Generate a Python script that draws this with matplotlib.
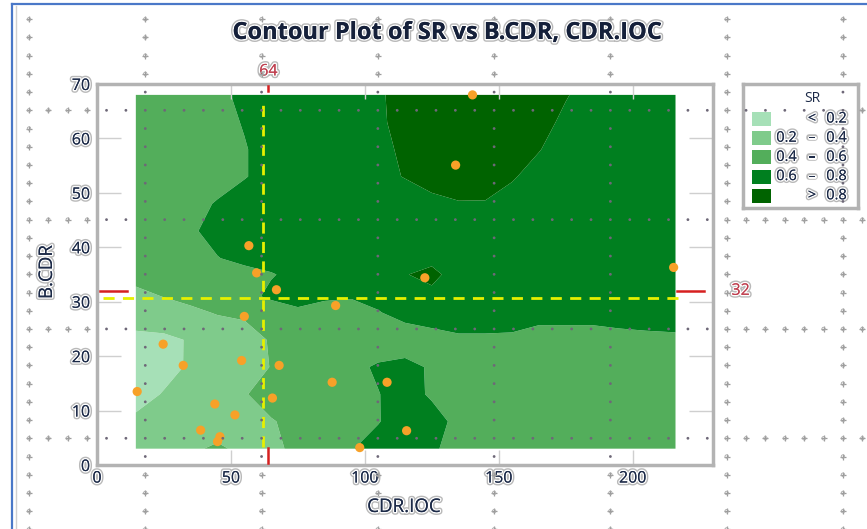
# Contour plot de SR em função de B.CDR e CDR.IOC (estilo Minitab)

import numpy as np
import matplotlib
matplotlib.use("Agg")
import matplotlib.pyplot as plt
import matplotlib.patheffects as pe
from matplotlib.patches import Rectangle
from matplotlib.lines import Line2D

plt.rcParams["font.family"] = ["Open Sans", "DejaVu Sans"]

# Grade ajustada: colunas (CDR.IOC), linhas (B.CDR) e valores de SR
cdr_ioc_grid = [14.5, 25, 35, 45, 55, 65, 75, 85, 95, 105, 115, 125, 135, 145, 155, 165, 175, 185, 195, 205, 216]
b_cdr_grid = [3, 8, 13, 18, 23, 28, 31, 35, 38, 43, 48, 53, 58, 63, 68]
sr_grid = [
    [0.30, 0.33, 0.38, 0.42, 0.37, 0.36, 0.44, 0.52, 0.59, 0.68, 0.70, 0.62, 0.55, 0.52, 0.50, 0.50, 0.50, 0.50, 0.50, 0.50, 0.50],
    [0.23, 0.27, 0.31, 0.33, 0.35, 0.39, 0.44, 0.50, 0.55, 0.59, 0.70, 0.66, 0.56, 0.52, 0.50, 0.50, 0.50, 0.50, 0.50, 0.50, 0.50],
    [0.14, 0.21, 0.27, 0.33, 0.39, 0.46, 0.50, 0.52, 0.55, 0.595, 0.66, 0.58, 0.52, 0.50, 0.50, 0.50, 0.50, 0.50, 0.50, 0.50, 0.50],
    [0.12, 0.15, 0.22, 0.28, 0.33, 0.405, 0.48, 0.52, 0.56, 0.62, 0.65, 0.58, 0.52, 0.50, 0.50, 0.50, 0.50, 0.50, 0.50, 0.50, 0.50],
    [0.15, 0.16, 0.215, 0.30, 0.35, 0.41, 0.46, 0.50, 0.52, 0.50, 0.50, 0.54, 0.57, 0.57, 0.57, 0.53, 0.53, 0.53, 0.55, 0.56, 0.57],
    [0.30, 0.33, 0.37, 0.41, 0.42, 0.50, 0.58, 0.55, 0.55, 0.59, 0.66, 0.68, 0.70, 0.70, 0.68, 0.66, 0.66, 0.66, 0.67, 0.68, 0.68],
    [0.36, 0.405, 0.44, 0.47, 0.55, 0.63, 0.64, 0.62, 0.61, 0.65, 0.72, 0.74, 0.72, 0.72, 0.72, 0.70, 0.70, 0.70, 0.70, 0.70, 0.70],
    [0.45, 0.47, 0.49, 0.51, 0.55, 0.59, 0.64, 0.68, 0.70, 0.72, 0.79, 0.86, 0.70, 0.72, 0.72, 0.72, 0.72, 0.72, 0.72, 0.72, 0.72],
    [0.48, 0.50, 0.54, 0.595, 0.64, 0.66, 0.70, 0.70, 0.72, 0.72, 0.74, 0.74, 0.72, 0.72, 0.72, 0.72, 0.72, 0.72, 0.72, 0.72, 0.72],
    [0.50, 0.52, 0.58, 0.65, 0.70, 0.70, 0.72, 0.72, 0.72, 0.72, 0.73, 0.74, 0.74, 0.74, 0.73, 0.72, 0.72, 0.72, 0.72, 0.72, 0.72],
    [0.50, 0.52, 0.56, 0.61, 0.68, 0.70, 0.72, 0.72, 0.72, 0.73, 0.74, 0.76, 0.79, 0.79, 0.76, 0.74, 0.72, 0.72, 0.72, 0.72, 0.72],
    [0.50, 0.50, 0.52, 0.55, 0.59, 0.66, 0.70, 0.72, 0.74, 0.77, 0.805, 0.86, 0.88, 0.87, 0.81, 0.76, 0.74, 0.72, 0.70, 0.70, 0.70],
    [0.50, 0.50, 0.52, 0.55, 0.59, 0.66, 0.70, 0.72, 0.75, 0.77, 0.82, 0.90, 0.92, 0.92, 0.88, 0.805, 0.75, 0.72, 0.70, 0.70, 0.70],
    [0.50, 0.50, 0.52, 0.55, 0.61, 0.66, 0.70, 0.72, 0.75, 0.78, 0.84, 0.90, 0.93, 0.93, 0.90, 0.85, 0.77, 0.73, 0.70, 0.70, 0.70],
    [0.50, 0.50, 0.52, 0.57, 0.63, 0.67, 0.70, 0.72, 0.75, 0.785, 0.84, 0.90, 0.93, 0.93, 0.90, 0.85, 0.81, 0.74, 0.72, 0.70, 0.70],
]

# Faixas de SR
sr_levels = [0.0, 0.2, 0.4, 0.6, 0.8, 1.0]
sr_colors = ["#a6e0b7", "#7fcb8b", "#53ae5b", "#007f1f", "#006300"]
legend_rows = [("", "<", "0.2"), ("0.2", "–", "0.4"), ("0.4", "–", "0.6"),
               ("0.6", "–", "0.8"), ("", ">", "0.8")]

# Pontos do delineamento
pts_cdr_ioc = [140.2, 133.9, 56.7, 59.6, 67.0, 122.4, 215.3, 89.1, 55.0, 24.7, 32.2, 54.0,
               68.0, 87.8, 108.3, 15.0, 44.0, 65.5, 51.5, 38.7, 45.9, 45.0, 115.6, 98.1]
pts_b_cdr = [68.0, 55.1, 40.3, 35.3, 32.2, 34.4, 36.3, 29.3, 27.3, 22.2, 18.3, 19.2,
             18.3, 15.2, 15.2, 13.5, 11.2, 12.3, 9.2, 6.4, 5.2, 4.3, 6.3, 3.2]

# Cruz de referência (marcas vermelhas) e linhas guia amarelas
ref_x, ref_y = 64, 32
guide_x, guide_y = 62, 30.6

W, H = 867, 529
TXT = "#1c2a48"
halo = [pe.withStroke(linewidth=4, foreground="#b9b9b9"),
        pe.withStroke(linewidth=2, foreground="white"), pe.Normal()]


def px(x, y):
    # converte pixel da figura para fração
    return x / W, 1 - y / H


fig = plt.figure(figsize=(W / 100, H / 100), dpi=100)
fig.patch.set_facecolor("white")

ax = fig.add_axes([97 / W, (H - 465) / H, 616 / W, 381 / H])
X, Y = np.meshgrid(cdr_ioc_grid, b_cdr_grid)
ax.contourf(X, Y, np.array(sr_grid), levels=sr_levels, colors=sr_colors,
            antialiased=True, zorder=1)
ax.scatter(pts_cdr_ioc, pts_b_cdr, s=44, color="#f7a128", edgecolors="none",
           zorder=5, clip_on=False)

ax.set_xlim(0, 230)
ax.set_ylim(0, 70)
ax.set_xticks([0, 50, 100, 150, 200])
ax.set_yticks(range(0, 71, 10))
for s in ax.spines.values():
    s.set_color("#b3b3b3")
    s.set_linewidth(2.5)
ax.tick_params(axis="y", direction="in", length=17, width=1, color="#cfcfcf",
               labelsize=11.5, labelcolor=TXT, pad=5, right=True)
ax.tick_params(axis="x", direction="in", length=11, width=1, color="#cfcfcf",
               labelsize=11.5, labelcolor=TXT, pad=4, top=True)
for lab in ax.get_xticklabels() + ax.get_yticklabels():
    lab.set_path_effects(halo)

# linhas guia amarelas tracejadas
ax.axvline(guide_x, ymin=3.3 / 70, ymax=67.2 / 70, color="#e6f000", lw=2,
           dashes=(4, 3), zorder=4)
ax.axhline(guide_y, xmin=2.2 / 230, xmax=219 / 230, color="#e6f000", lw=2,
           dashes=(4, 3), zorder=4)

# marcas vermelhas da referência (nas bordas do gráfico)
red = "#d62020"
ax.plot([ref_x, ref_x], [68.8, 69.7], color=red, lw=1.8, zorder=6)
ax.plot([ref_x, ref_x], [0.3, 3.1], color=red, lw=1.8, zorder=6)
ax.plot([1.2, 11.2], [ref_y, ref_y], color=red, lw=1.8, zorder=6)
ax.plot([216.5, 226.8], [ref_y, ref_y], color=red, lw=1.8, zorder=6)
bx = ax.get_xaxis_transform()
by = ax.get_yaxis_transform()
ax.text(ref_x, 1.012, str(ref_x), transform=bx, ha="center", va="bottom",
        fontsize=11.5, color="#c04050", path_effects=halo)
ax.text(1.03, ref_y, str(ref_y), transform=by, ha="left", va="center",
        fontsize=11.5, color="#c04050", path_effects=halo)

# títulos
fig.text(*px(447, 33), "Contour Plot of SR vs B.CDR, CDR.IOC", ha="center", va="center",
         fontsize=17, fontweight="bold", color="#15203a", path_effects=halo, zorder=10)
fig.text(*px(404, 507), "CDR.IOC", ha="center", va="center", fontsize=13.5,
         color=TXT, path_effects=halo, zorder=10)
fig.text(*px(47, 272), "B.CDR", ha="center", va="center", fontsize=13.5, rotation=90,
         color=TXT, path_effects=halo, zorder=10)

# legenda
lax = fig.add_axes([743 / W, (H - 208) / H, 115 / W, 124 / H])
lax.set_xlim(743, 858)
lax.set_ylim(208, 84)
lax.set_xticks([])
lax.set_yticks([])
for s in lax.spines.values():
    s.set_color("#b3b3b3")
    s.set_linewidth(2.5)
lax.text(812, 99, "SR", ha="center", va="center", fontsize=10, color=TXT)
for i, (col, (lo, sym, hi)) in enumerate(zip(sr_colors, legend_rows)):
    yc = 119 + 19.2 * i
    lax.add_patch(Rectangle((752, yc - 7), 19, 14, facecolor=col, edgecolor="none"))
    lax.text(797, yc, lo, ha="right", va="center", fontsize=10.5, color=TXT, path_effects=halo)
    lax.text(812, yc, sym, ha="center", va="center", fontsize=10.5, color=TXT, path_effects=halo)
    lax.text(847, yc, hi, ha="right", va="center", fontsize=10.5, color=TXT, path_effects=halo)

# grade de alças de edição no fundo
over = fig.add_axes([0, 0, 1, 1], zorder=2)
over.set_xlim(0, W)
over.set_ylim(H, 0)
over.axis("off")
gx = 29 + 19.38 * np.arange(45)
gy = 1 + 18.22 * np.arange(30)
dots, handles = [], []
for i, xg in enumerate(gx):
    for j, yg in enumerate(gy):
        if j == 0 or (i % 6 and j % 6):
            continue
        inside = (100 < xg < 710 and 87 < yg < 462) or (745 < xg < 856 and 86 < yg < 206)
        (dots if inside else handles).append((xg, yg))
dots = np.array(dots)
handles = np.array(handles)
over.scatter(dots[:, 0], dots[:, 1], s=4, color="#6e6878", edgecolors="none")
over.scatter(handles[:, 0], handles[:, 1], s=22, marker="+", color="#9c9c9c", linewidths=0.9)
over.scatter(handles[:, 0], handles[:, 1], s=6, marker="o", facecolor="none",
             edgecolors="#a8a8a8", linewidths=0.6)

# moldura lateral azul
fig.add_artist(Line2D([12 / W, 12 / W], [0, 1 - 4 / H], color="#4a78c8", lw=1.6))
fig.add_artist(Line2D([12 / W, 1], [1 - 4 / H, 1 - 4 / H], color="#4a78c8", lw=1.6))
fig.add_artist(Line2D([16 / W, 16 / W], [0, 1 - 6 / H], color="#d0d0d0", lw=1))

fig.savefig("out.png", dpi=100)
